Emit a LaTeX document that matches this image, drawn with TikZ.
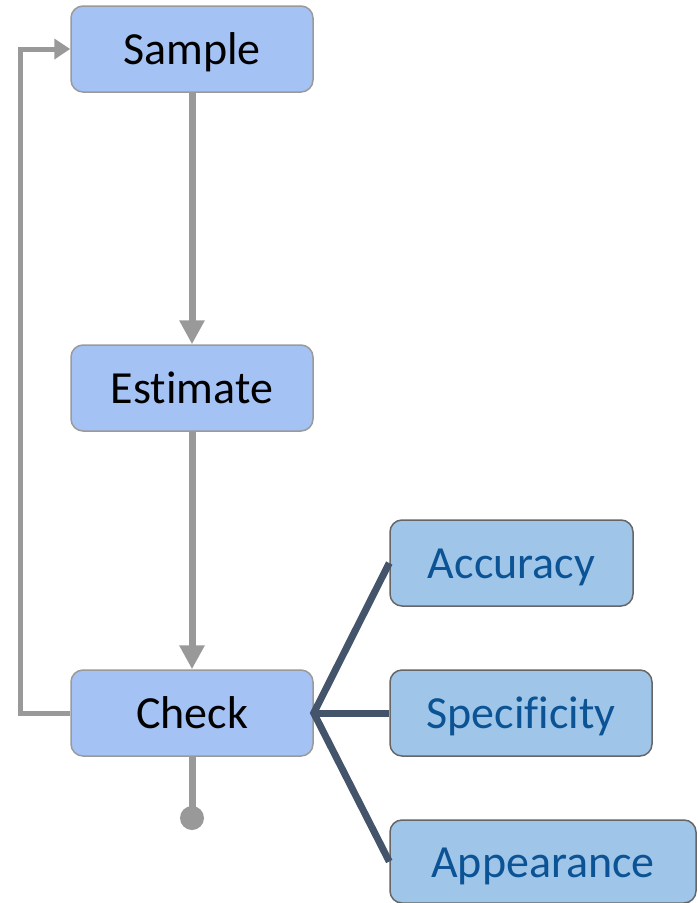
\documentclass[tikz,border=0pt]{standalone}
\usepackage{fontspec}
\setmainfont{Carlito}[Ligatures={NoCommon}]
\usetikzlibrary{arrows.meta}
\definecolor{leftfill}{HTML}{A4C2F4}
\definecolor{rightfill}{HTML}{9FC5E8}
\definecolor{leftborder}{HTML}{9A9A9A}
\definecolor{rightborder}{HTML}{666666}
\definecolor{righttext}{HTML}{0B5394}
\definecolor{arrowgray}{HTML}{999999}
\definecolor{slate}{HTML}{44546A}
\tikzset{
  stepbox/.style={draw=leftborder, line width=1.5pt, fill=leftfill, rounded corners=12pt,
    minimum width=242pt, minimum height=86pt, inner sep=0pt,
    text height=34pt, text depth=3pt,
    font=\fontsize{46}{55}\selectfont, text=black},
  critbox/.style={draw=rightborder, line width=1.5pt, fill=rightfill, rounded corners=12pt,
    minimum height=86pt, inner sep=0pt,
    text height=34pt, text depth=3pt,
    font=\fontsize{46}{55}\selectfont, text=righttext},
  flow/.style={draw=arrowgray, line width=7pt, -{Triangle[width=24pt,length=24pt]}},
  loop/.style={draw=arrowgray, line width=5pt, -{Triangle[width=20pt,length=16pt]}},
  branch/.style={draw=slate, line width=7pt}
}
\begin{document}
\begin{tikzpicture}[x=1pt,y=-1pt]
\useasboundingbox (0,0) rectangle (698,903);
\node[stepbox] (sample) at (192,49) {Sample};
\node[stepbox] (estimate) at (192,388) {Estimate};
\node[stepbox] (check) at (192,713) {Check};
\node[critbox, minimum width=243pt] (acc) at (511.5,563) {Accuracy};
\node[critbox, minimum width=262pt] (spec) at (521,713) {Specificity};
\node[critbox, minimum width=306pt, minimum height=83pt] (app) at (543,861.5) {Appearance};
\coordinate (dot) at (192,818);
\draw[flow] (sample.south) -- (estimate.north);
\draw[flow] (estimate.south) -- (check.north);
\draw[loop] (check.west) -- (20,713) -- (20,49) -- (sample.west);
\draw[draw=arrowgray, line width=7pt] (check.south) -- (dot);
\fill[arrowgray] (dot) circle (12pt);
\draw[branch] (acc.west) -- (check.east) -- (app.west);
\draw[branch] (check.east) -- (spec.west);
\end{tikzpicture}
\end{document}
